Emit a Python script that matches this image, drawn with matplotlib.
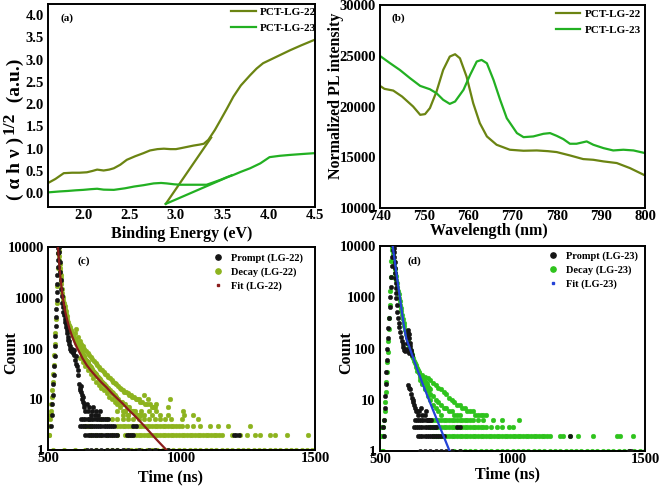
import matplotlib
matplotlib.use("Agg")
import matplotlib.pyplot as plt
from matplotlib.lines import Line2D
from matplotlib.ticker import FixedLocator, FixedFormatter, NullLocator

plt.rcParams['font.family'] = ['Liberation Serif', 'DejaVu Serif']
plt.rcParams['font.weight'] = 'bold'

# ---------------- (a) Tauc plot ----------------
bg_energy22 = [1.63,1.70,1.79,1.88,1.96,2.04,2.10,2.15,2.22,2.28,2.33,2.40,2.47,2.56,2.65,2.72,2.80,2.87,2.94,3.00,3.05,3.12,3.19,3.25,3.30,3.35,3.42,3.48,3.55,3.62,3.70,3.80,3.87,3.94,4.02,4.12,4.23,4.35,4.50]
bg_y22 = [0.24,0.32,0.45,0.46,0.46,0.47,0.50,0.53,0.51,0.53,0.56,0.64,0.75,0.83,0.90,0.96,0.99,1.00,0.99,0.99,1.01,1.04,1.07,1.09,1.11,1.20,1.42,1.64,1.90,2.17,2.42,2.65,2.80,2.92,3.00,3.10,3.21,3.32,3.45]
tangent22_x = [2.89, 3.38]
tangent22_y = [-0.24, 1.25]
bg_energy23 = [1.63,1.75,1.83,1.92,2.00,2.08,2.15,2.22,2.33,2.45,2.55,2.65,2.76,2.84,2.90,2.98,3.05,3.12,3.19,3.26,3.33,3.40,3.48,3.55,3.62,3.70,3.80,3.91,4.01,4.12,4.23,4.36,4.50]
bg_y23 = [0.02,0.04,0.05,0.065,0.075,0.09,0.10,0.08,0.075,0.11,0.15,0.18,0.22,0.23,0.22,0.20,0.19,0.19,0.19,0.19,0.19,0.24,0.30,0.36,0.41,0.48,0.56,0.67,0.81,0.84,0.86,0.88,0.90]
tangent23_x = [2.89, 3.60]
tangent23_y = [-0.24, 0.40]
a_xticks = [2.0, 2.5, 3.0, 3.5, 4.0, 4.5]
a_yticks = [0.0, 0.5, 1.0, 1.5, 2.0, 2.5, 3.0, 3.5, 4.0]

# ---------------- (b) PL spectra ----------------
pl_wl22 = [740,741,743,745,747.5,749.1,750.2,751.3,752.8,754.3,755.8,757,758.1,759.6,761.1,762.6,764.2,766.4,769.4,772.5,775.5,778,780,783,786,788.3,790.6,793.6,796.6,800]
pl_i22 = [22030,21740,21570,20980,20000,19180,19250,19840,21475,23600,24920,25150,24750,22950,20330,18360,17050,16230,15740,15640,15670,15600,15510,15180,14820,14750,14590,14430,13930,13210]
pl_wl23 = [740,742.3,744.5,746.8,749.1,751.3,752.8,754.3,755.8,757,758.9,760.4,761.9,763,764.2,765.7,767.2,768.7,771,772.5,774.7,777,778.5,780,781.5,783,784.5,786.8,788.3,790.6,792.8,795.1,797.4,800]
pl_i23 = [24980,24260,23600,22790,22030,21700,21310,20660,20260,20490,21640,23110,24430,24590,24260,22620,20660,18850,17380,16980,17050,17310,17380,17110,16790,16330,16330,16560,16230,15900,15670,15740,15670,15410]
b_xticks = [740, 750, 760, 770, 780, 790, 800]
b_yticks = [10000, 15000, 20000, 25000, 30000]

# ---------------- (c) decay LG-22 ----------------
prompt22 = [(512,3),(514,5),(516,8),(518,12),(520,20),(522,30),(524,45),(526,70),(527,110),(528,180),(529,280),(530,420),(531,600),(532,900),(533,1300),(534,1900),(535,2800),(536,4000),(537,5500),(538,7500),(539,9500),(540,10000),
            (542,8000),(544,5000),(546,3200),(548,2200),(550,1500),(552,1100),(554,800),(556,650),(558,520),(560,450),(562,380),(564,330),(566,300),(568,260),(570,230),(572,200),(574,170),(576,150),(578,140),(580,120),(582,110),(584,100),(586,95),(588,90),(590,100),(592,85),(594,80),(596,95),(598,75),(600,60),
            (603,70),(606,50),(609,45),(612,38),(614,30),(616,20),(618,17),(620,15),(622,18),(624,14),(626,12),(628,10),(630,9),(632,11),(634,8),(636,7),(640,6),(645,8),(650,6),(655,7),(660,5),(665,6),(670,7),(675,5),(680,6),(687,5),(694,6)]
prompt22_lvl4 = [625,632,640,648,655,662,670,678,686,694,702,710,718,726]
prompt22_lvl3 = [620,628,636,644,652,660,668,676,684,692,700,708,716,724,732,740,748,820,828]
prompt22_lvl2 = [640,648,656,664,672,680,688,696,704,712,720,728,736,744,752,760,795,803,811,819,1195,1205,1215]
prompt22_lvl1 = [645,660,680,700,720,740,760,780,800,840,880,900,950]

decay22 = [(504,2),(504,3),(506,4),(508,5),(510,6),(512,8),(514,11),(516,15),(518,22),(520,32),(522,48),(524,75),(526,120),(528,200),(530,380),(532,800),(534,1700),(536,3800),(538,7500),
           (540,9800),(541,8200),(542,6800),(543,5600),(544,4600),(545,3900),(546,3300),(547,2800),(548,2400),(549,2100),(550,1850),(552,1500),(554,1250),(556,1050),(558,900),(560,780),(562,680),(564,600),(566,540),(568,480),(570,430),(573,380),(576,330),(579,290),(582,260),(585,235),(588,210),(591,190),(594,175),(597,160),(600,150),(603,140),(606,130),(609,120),(612,112),(615,105),(618,98),(621,92),(624,86),(627,80),(630,75),(633,71),(636,67),(639,63),(642,60),(645,57),(648,54),(651,51),(654,48),(657,46),(660,44),
           (600,200),(606,240),(612,170),(618,140),(624,125),(630,110),(636,100),(642,90),(648,82),(654,76),(660,68),(666,62),(672,58),(678,52),(684,48),(690,44),(696,40),(702,37),(708,34),(714,32),(720,30),(726,28),(732,26),(738,24),(744,22),(750,21),(756,20),(762,18),(768,17),(774,16),(780,15),(786,14),(792,14),(798,13),(804,12),(810,12),(816,11),(822,11),(828,10),(834,10),(840,10),(846,9),(852,9),(858,12),(864,8),(870,8),(876,10),(882,8),(888,7),(894,7),(900,7),(906,8),(950,7),(956,10),
           (663,40),(666,38),(669,36),(672,35),(675,33),(678,31),(681,30),(684,29),(687,27),(690,26),(693,25),(696,24),(699,23),(702,22),(705,21),(708,20),(711,20),(714,19),(717,18),(720,17),(723,17),(726,16),(729,15),(732,15),(735,14),(738,14),(741,13),(744,13),(747,12),(750,12),(753,11),(756,11),(760,10),(764,10),(768,9),(772,9),(776,9),(780,8),(785,8),(790,8),(795,7),(800,7),(805,7),(810,6),(815,6),(820,6),(825,6),(830,5),(835,5),(840,5),(845,5),(850,5),
           (620,64),(630,55),(640,46),(650,38),(660,32),(670,26),(680,22),(690,19),(700,17),(710,15),(720,13),(730,11),(740,10),(750,9),(760,8),(770,7),(780,6),(790,6),(800,5)]
decay22_lvl6 = [760,790,820,850,880,905,1005]
decay22_lvl5 = [780,800,830,860,890,920,950,1010,1043]
decay22_lvl4 = [700,720,740,760,780,800,820,840,860,880,900,920,940,960,1002,1062]
decay22_lvl3 = [502,640,650,660,760,770,780,790,800,810,820,830,840,850,860,870,880,890,900,910,920,930,940,950,960,970,980,990,1000,1020,1043,1069,1107,1137,1174,1256]
decay22_lvl2 = [504,660,680,700,720,740,760,790,800,810,820,830,840,850,860,870,880,890,900,910,920,930,940,950,960,970,980,990,1000,1010,1020,1030,1040,1050,1060,1070,1080,1090,1100,1110,1120,1130,1140,1150,1189,1219,1245,1275,1294,1331,1350,1395,1474]
decay22_lvl1 = [520,560,600,640,680,720,740,760,790,810,830,850,870,890,910,930,950,970,990,1010,1030,1050,1070,1090,1110,1130,1150,1170,1190,1210,1230,1250,1270,1290,1310,1330,1350,1370,1390,1410,1430,1450,1470,1490]
fit22 = [(537,10000),(540,6500),(545,3000),(550,1700),(555,1050),(560,720),(565,520),(570,400),(580,250),(590,175),(600,130),(610,100),(620,80),(630,63),(645,47),(660,37),(680,28),(700,21.5),(720,17),(740,13),(760,10.3),(780,8.2),(800,6.3),(820,5),(840,3.9),(860,3),(880,2.3),(900,1.75),(920,1.35),(940,1.05),(960,0.8)]

# ---------------- (d) decay LG-23 ----------------
prompt23 = [(513,3),(514,2),(516,4),(518,7),(520,12),(522,20),(524,35),(526,60),(528,100),(530,160),(532,250),(534,400),(536,650),(538,1000),(540,1600),(542,2500),(544,4000),(546,6000),(548,8500),(550,10000),
            (552,9000),(553,7500),(554,6000),(555,4800),(556,3800),(557,3000),(558,2400),(559,1900),(560,1500),(561,1200),(562,950),(564,700),(566,520),(568,400),(570,320),(573,260),(576,210),(579,170),(582,140),(585,120),(588,105),(591,95),(594,90),(597,100),(600,130),(602,170),(604,200),(606,230),(608,190),(610,160),(612,130),(614,110),(616,95),(618,85),(620,75),(605,90),(610,80),
            (607,19),(610,17),(613,16),(616,13),(620,11),(623,10),(626,9),(629,8),(632,7),(636,6),(639,6),(642,5),(648,6),(655,7),(660,5),(668,5),(675,6),(681,4)]
prompt23_lvl4 = [632,640,648,656,664,672,680,688,692]
prompt23_lvl3 = [628,636,644,652,660,668,676,684,692,700,708,711,790,802]
prompt23_lvl2 = [645,652,660,668,676,684,692,700,708,716,724,732,740,1217]
prompt23_lvl1 = [650,670,690,710,730,750,770,800,1440,1449]

decay23 = [(502,2),(502,3),(506,3),(509,1),(511,2),(513,2),(513,3),(515,4),(517,6),(519,9),(521,14),(523,22),(525,35),(527,55),(529,85),(531,140),(533,240),(535,400),(537,700),(539,1300),(541,2500),(543,5000),
           (545,9500),(546,8200),(548,7000),(550,6000),(552,5000),(554,4200),(556,3500),(558,3000),(560,2600),(562,2200),(564,1900),(566,1600),(568,1350),(570,1150),(572,980),(574,850),(576,720),(578,620),(580,540),(583,450),(586,380),(589,320),(592,270),(595,230),(598,195),(601,165),(604,145),(607,125),(610,110),(613,98),(616,88),(619,79),(622,71),(625,64),(628,58),(631,53),(634,48),(637,44),(640,41),(643,38),(646,35),(649,33),(652,31),(655,29),(658,27),(661,25),(664,24),(667,23),(670,22),(673,21),(676,20),(679,19),(682,18),(685,17),(688,16),
           (660,30),(670,28),(680,26),(690,24),(700,21),(710,19),(720,17),(730,16),(740,14),(750,13),(760,11),(770,10),(780,9),(790,8),(800,8),(810,7),(820,7),(830,6),(840,6),(850,6),(860,5),(870,5),(880,5),(890,5),(900,5),
           (650,24),(660,20),(670,17),(680,15),(690,13),(700,12),(710,10),(720,9),(730,8),(740,7),(750,7),(760,6),(770,6),(780,5),(790,5),(800,5),
           (640,36),(650,28),(660,21),(670,16),(680,12),(690,10),(700,8),(710,7),(720,6),(730,5)]
decay23_lvl4 = [700,710,720,730,740,750,760,770,780,790,800,810,820,830,840,850,870,890,928,959,1025]
decay23_lvl3 = [502,690,700,710,720,730,740,750,760,770,780,790,800,810,820,830,840,850,860,870,880,890,900,920,940,960,985,1000]
decay23_lvl2 = [701,710,720,730,740,750,760,770,780,790,800,810,820,830,840,850,860,870,880,890,900,910,920,930,940,950,960,970,980,990,1000,1010,1020,1030,1040,1050,1060,1070,1080,1090,1100,1110,1120,1130,1140,1179,1190,1217,1248,1305,1393,1405,1456]
decay23_lvl1 = [510,780,800,820,840,860,880,900,920,940,960,980,1000,1020,1040,1060,1080,1100,1120,1140,1160,1180,1200,1220,1240,1260,1280,1300,1320,1340,1360,1380,1400,1420,1440,1460,1480,1500]
fit23 = [(548,10000),(552,7000),(556,5000),(560,3500),(565,2300),(570,1500),(575,1000),(580,650),(585,420),(590,280),(595,200),(600,150),(610,110),(620,78),(630,56),(640,40),(650,29),(660,21),(670,15.5),(680,11.5),(690,8.5),(700,6.3),(710,4.7),(720,3.5),(730,2.6),(740,1.95),(750,1.45),(760,1.08),(770,0.8)]
cd_xticks = [500, 1000, 1500]
cd_yticks = [1, 10, 100, 1000, 10000]

OLIVE = '#6b8412'
GREEN = '#22b022'
DECAY22 = '#8db31e'
DECAY23 = '#2ec31c'
FIT22 = '#8b1c1c'
FIT23 = '#2342d6'
BLACK = '#151515'

fig = plt.figure(figsize=(6.6, 4.86), dpi=100)
W, H = 660.0, 486.0
def mkax(l, r, t, b):
    return fig.add_axes([l / W, 1 - b / H, (r - l) / W, (b - t) / H])

axa = mkax(48, 315, 4, 207)
axb = mkax(380, 645, 5, 208)
axc = mkax(48, 315, 247, 450)
axd = mkax(380, 645, 246, 451)

TICKFS = 10.5
LABFS = 11.5

def style(ax):
    for s in ax.spines.values():
        s.set_linewidth(1.4)
        s.set_color('black')
    ax.tick_params(axis='both', which='both', length=0, labelsize=TICKFS)
    ax.tick_params(axis='x', pad=1.5)
    ax.tick_params(axis='y', pad=3)
    for lab in ax.get_xticklabels() + ax.get_yticklabels():
        lab.set_fontweight('bold')

# (a)
axa.plot(bg_energy22, bg_y22, color=OLIVE, lw=1.6, label='PCT-LG-22')
axa.plot(tangent22_x, tangent22_y, color=OLIVE, lw=1.6)
axa.plot(bg_energy23, bg_y23, color=GREEN, lw=1.6, label='PCT-LG-23')
axa.plot(tangent23_x, tangent23_y, color=GREEN, lw=1.6)
axa.set_xlim(1.62, 4.5)
axa.set_ylim(-0.31, 4.25)
axa.set_xticks(a_xticks)
axa.set_xticklabels([f'{v:.1f}' for v in a_xticks])
axa.set_yticks(a_yticks)
axa.set_yticklabels([f'{v:.1f}' for v in a_yticks])
style(axa)
axa.set_xlabel('Binding Energy (eV)', fontsize=LABFS, fontweight='bold')
axa.xaxis.set_label_coords(0.50, -0.094)
# y label built from pieces so that the exponent is large, as in the figure
ta1 = axa.text(-0.090, (207 - 200) / 203.0, '( \u03b1 h \u03bd )', transform=axa.transAxes, rotation=90,
               fontsize=14, fontweight='bold', ha='right', va='bottom')
ta2 = axa.annotate('1/2', xy=(0.62, 1.0), xycoords=ta1, xytext=(0, 2), textcoords='offset points',
                   rotation=90, fontsize=12.5, fontweight='bold', ha='right', va='bottom')
ta3 = axa.annotate('  (a.u.)', xy=(1.0, 1.0), xycoords=(ta1, ta2), xytext=(0, 0), textcoords='offset points',
                   rotation=90, fontsize=14, fontweight='bold', ha='right', va='bottom')
axa.text(0.045, 0.955, '(a)', transform=axa.transAxes, fontsize=8, fontweight='bold', va='top', ha='left')
axa.legend(loc='upper right', bbox_to_anchor=(1.005, 0.985), frameon=False, fontsize=8,
           handlelength=2.2, handletextpad=0.4, labelspacing=0.55, borderpad=0, borderaxespad=0)

# (b)
axb.plot(pl_wl22, pl_i22, color=OLIVE, lw=1.6, label='PCT-LG-22')
axb.plot(pl_wl23, pl_i23, color=GREEN, lw=1.6, label='PCT-LG-23')
axb.set_xlim(740, 800)
axb.set_ylim(10000, 30000)
axb.set_xticks(b_xticks)
axb.set_yticks(b_yticks)
axb.set_yticklabels([str(v) for v in b_yticks])
style(axb)
axb.set_xlabel('Wavelength (nm)', fontsize=LABFS, fontweight='bold')
axb.xaxis.set_label_coords(0.41, -0.074)
axb.set_ylabel('Normalized PL intensity', fontsize=LABFS, fontweight='bold')
axb.yaxis.set_label_coords(-0.136, 0.555)
axb.text(0.045, 0.96, '(b)', transform=axb.transAxes, fontsize=8, fontweight='bold', va='top', ha='left')
axb.legend(loc='upper right', bbox_to_anchor=(0.985, 0.98), frameon=False, fontsize=8,
           handlelength=2.2, handletextpad=0.4, labelspacing=0.55, borderpad=0, borderaxespad=0)

def scatter_series(ax, pairs, rows, color, ms, z):
    xs = [p[0] for p in pairs]
    ys = [p[1] for p in pairs]
    for lvl, times in rows:
        xs += list(times)
        ys += [lvl] * len(times)
    ax.plot(xs, ys, 'o', color=color, ms=ms, mec=color, mew=0.3, zorder=z, clip_on=True)

def decay_panel(ax, prompt, prompt_rows, decay, decay_rows, fit, dcol, fcol, tag, letter, lx, ly):
    scatter_series(ax, decay, decay_rows, dcol, 3.4, 2)
    scatter_series(ax, prompt, prompt_rows, BLACK, 3.2, 3)
    ax.plot([p[0] for p in fit], [p[1] for p in fit], '-', color=fcol, lw=1.6, zorder=4)
    ax.set_yscale('log')
    ax.set_xlim(500, 1500)
    ax.set_ylim(1, 10000)
    ax.yaxis.set_major_locator(FixedLocator(cd_yticks))
    ax.yaxis.set_major_formatter(FixedFormatter([str(v) for v in cd_yticks]))
    ax.yaxis.set_minor_locator(NullLocator())
    ax.set_xticks(cd_xticks)
    style(ax)
    ax.set_xlabel('Time (ns)', fontsize=LABFS, fontweight='bold')
    ax.set_ylabel('Count', fontsize=LABFS, fontweight='bold')
    ax.text(lx, ly, letter, transform=ax.transAxes, fontsize=8, fontweight='bold', va='top', ha='left')
    handles = [Line2D([], [], ls='none', marker='o', ms=3.8, color=BLACK),
               Line2D([], [], ls='none', marker='o', ms=3.8, color=dcol),
               Line2D([], [], ls='none', marker='s', ms=1.6, color=fcol)]
    labels = [f'Prompt ({tag})', f'Decay ({tag})', f'Fit ({tag})']
    return handles, labels

h, l = decay_panel(axc, prompt22, [(4, prompt22_lvl4), (3, prompt22_lvl3), (2, prompt22_lvl2), (1, prompt22_lvl1)],
                   decay22, [(6, decay22_lvl6), (5, decay22_lvl5), (4, decay22_lvl4), (3, decay22_lvl3), (2, decay22_lvl2), (1, decay22_lvl1)],
                   fit22, DECAY22, FIT22, 'LG-22', '(c)', 0.109, 0.956)
axc.xaxis.set_label_coords(0.457, -0.094)
axc.yaxis.set_label_coords(-0.109, 0.478)
axc.legend(h, l, loc='upper right', bbox_to_anchor=(0.955, 0.97), frameon=False, fontsize=7.5,
           handlelength=1.0, handletextpad=0.7, labelspacing=0.45, borderpad=0, borderaxespad=0)

h, l = decay_panel(axd, prompt23, [(4, prompt23_lvl4), (3, prompt23_lvl3), (2, prompt23_lvl2), (1, prompt23_lvl1)],
                   decay23, [(4, decay23_lvl4), (3, decay23_lvl3), (2, decay23_lvl2), (1, decay23_lvl1)],
                   fit23, DECAY23, FIT23, 'LG-23', '(d)', 0.102, 0.951)
axd.xaxis.set_label_coords(0.483, -0.073)
axd.yaxis.set_label_coords(-0.098, 0.478)
axd.legend(h, l, loc='upper right', bbox_to_anchor=(0.972, 0.975), frameon=False, fontsize=7.5,
           handlelength=1.0, handletextpad=0.7, labelspacing=0.45, borderpad=0, borderaxespad=0)

fig.savefig('out.png', dpi=100)
